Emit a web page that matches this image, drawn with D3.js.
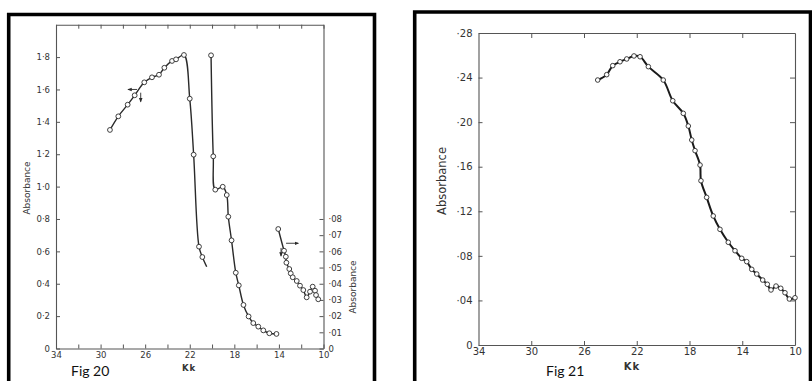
<!DOCTYPE html>
<html><head><meta charset="utf-8">
<script src="https://cdn.jsdelivr.net/npm/d3@7"></script>
<style>body{margin:0;background:#fff}svg{display:block}</style>
</head><body>
<svg id="c" width="812" height="381"></svg>
<script>
// ---------- Fig 20 data ----------
const fig20S1X = [29.16, 28.41, 27.57, 26.94, 26.08, 25.39, 24.76, 24.28, 23.59, 23.23, 22.52, 22.0, 21.65, 21.17, 20.87, 20.48];
const fig20S1Y = [1.350, 1.434, 1.506, 1.564, 1.644, 1.675, 1.691, 1.734, 1.776, 1.786, 1.813, 1.543, 1.197, 0.629, 0.565, 0.505];
const fig20S1Marked = [1,1,1,1,1,1,1,1,1,1,1,1,1,1,1,0];
const fig20S2X = [20.09, 19.89, 19.71, 19.04, 18.68, 18.54, 18.25, 17.87, 17.60, 17.18, 16.72, 16.30, 15.85, 15.40, 14.86, 14.22];
const fig20S2Y = [1.811, 1.187, 0.981, 0.999, 0.948, 0.814, 0.668, 0.468, 0.390, 0.269, 0.198, 0.157, 0.135, 0.112, 0.094, 0.090];
// series 3 is read on the right-hand axis
const fig20S3X = [14.06, 13.54, 13.38, 13.33, 13.07, 12.94, 12.76, 12.40, 12.11, 11.81, 11.51, 11.21, 10.97, 10.76, 10.67, 10.47];
const fig20S3Y = [0.0738, 0.0604, 0.0567, 0.0530, 0.0491, 0.0464, 0.0440, 0.0417, 0.0388, 0.0361, 0.0316, 0.0351, 0.0382, 0.0357, 0.0330, 0.0304];
const fig20XTicks = [34, 32, 30, 28, 26, 24, 22, 20, 18, 16, 14, 12, 10];
const fig20LeftTicks = [0, 0.2, 0.4, 0.6, 0.8, 1.0, 1.2, 1.4, 1.6, 1.8];
const fig20RightTicks = [0, 0.01, 0.02, 0.03, 0.04, 0.05, 0.06, 0.07, 0.08];
// arrow annotations [x1, y1, x2, y2] in data units (arrow head at x2,y2)
const fig20ArrowsLeft = [[26.73, 1.60, 27.54, 1.60], [26.40, 1.58, 26.40, 1.524]];
const fig20ArrowsRight = [[13.36, 0.065, 12.26, 0.065], [13.81, 0.0621, 13.81, 0.0571]];

// ---------- Fig 21 data ----------
const fig21X = [24.96, 24.28, 23.82, 23.27, 22.76, 22.21, 21.75, 21.12, 19.99, 19.27, 18.47, 18.09, 17.83, 17.58, 17.20, 17.13, 16.70, 16.20, 15.69, 15.06, 14.55, 14.04, 13.66, 13.28, 12.90, 12.45, 12.10, 11.82, 11.44, 11.08, 10.76, 10.43, 10.00];
const fig21Y = [0.2378, 0.2426, 0.2507, 0.2542, 0.2567, 0.2594, 0.2587, 0.2498, 0.2378, 0.2192, 0.2079, 0.1965, 0.1840, 0.1744, 0.1615, 0.1474, 0.1325, 0.1158, 0.1038, 0.0922, 0.0846, 0.0778, 0.0748, 0.0679, 0.0637, 0.0583, 0.0545, 0.0494, 0.0529, 0.0509, 0.0469, 0.0413, 0.0424];
const fig21XTicks = [34, 30, 26, 22, 18, 14, 10];
const fig21YTicks = [0, 0.04, 0.08, 0.12, 0.16, 0.20, 0.24, 0.28];

const svg = d3.select("#c");
const ink = "#2a2a2a", axisCol = "#555";
const tickFont = "DejaVu Sans";

svg.append("defs").append("marker")
  .attr("id", "ah").attr("viewBox", "0 0 6 6").attr("refX", 5).attr("refY", 3)
  .attr("markerWidth", 5).attr("markerHeight", 5).attr("orient", "auto")
  .append("path").attr("d", "M0,0.6 L6,3 L0,5.4 Z").attr("fill", ink);

function styleAxis(g, size) {
  g.selectAll("path.domain").attr("stroke", axisCol).attr("stroke-width", 1.1);
  g.selectAll(".tick line").attr("stroke", axisCol).attr("stroke-width", 1);
  g.selectAll(".tick text").attr("font-family", tickFont).attr("font-size", size).attr("fill", "#333");
}

// ================= Fig 20 =================
{
  const x = d3.scaleLinear().domain([34, 10]).range([56, 323.5]);
  const yL = d3.scaleLinear().domain([0, 2.0]).range([348.5, 24.7]);
  const yR = d3.scaleLinear().domain([0, 0.2]).range([348.5, 24.7]);
  const g = svg.append("g");
  const dot = v => v === 0 ? "0" : v.toFixed(1).replace(".", "·");
  const dot2 = v => v === 0 ? "0" : v.toFixed(2).replace("0.", "·");

  g.append("g").attr("transform", "translate(56,0)")
    .call(d3.axisLeft(yL).tickValues(fig20LeftTicks).tickFormat(dot).tickSize(-4).tickSizeOuter(0).tickPadding(6))
    .call(a => styleAxis(a, 8.5));
  g.append("g").attr("transform", "translate(323.5,0)")
    .call(d3.axisRight(yR).tickValues(fig20RightTicks).tickFormat(dot2).tickSize(-4).tickSizeOuter(0).tickPadding(5))
    .call(a => styleAxis(a, 8.5));
  g.append("g").attr("transform", "translate(0,348.5)")
    .call(d3.axisBottom(x).tickValues(fig20XTicks).tickFormat(v => (34 - v) % 4 === 0 ? v : "").tickSize(-4).tickSizeOuter(0).tickPadding(3))
    .call(a => styleAxis(a, 8.5));
  g.append("g").attr("transform", "translate(0,24.7)")
    .call(d3.axisTop(x).tickValues(fig20XTicks).tickFormat("").tickSize(-4).tickSizeOuter(0))
    .call(a => styleAxis(a, 8.5));

  const curve = d3.curveCatmullRom.alpha(0.5);
  const series = [
    {xs: fig20S1X, ys: fig20S1Y, y: yL, m: fig20S1Marked},
    {xs: fig20S2X, ys: fig20S2Y, y: yL, m: null},
    {xs: fig20S3X, ys: fig20S3Y, y: yR, m: null}
  ];
  series.forEach(s => {
    const pts = s.xs.map((v, i) => [v, s.ys[i], s.m ? s.m[i] : 1]);
    g.append("path").datum(pts)
      .attr("d", d3.line().x(d => x(d[0])).y(d => s.y(d[1])).curve(curve))
      .attr("fill", "none").attr("stroke", ink).attr("stroke-width", 1.4);
    g.selectAll(null).data(pts.filter(d => d[2])).join("circle")
      .attr("cx", d => x(d[0])).attr("cy", d => s.y(d[1])).attr("r", 2.4)
      .attr("fill", "#fff").attr("stroke", ink).attr("stroke-width", 0.9);
  });
  fig20ArrowsLeft.forEach(a => g.append("line")
    .attr("x1", x(a[0])).attr("y1", yL(a[1])).attr("x2", x(a[2])).attr("y2", yL(a[3]))
    .attr("stroke", ink).attr("stroke-width", 0.9).attr("marker-end", "url(#ah)"));
  fig20ArrowsRight.forEach(a => g.append("line")
    .attr("x1", x(a[0])).attr("y1", yR(a[1])).attr("x2", x(a[2])).attr("y2", yR(a[3]))
    .attr("stroke", ink).attr("stroke-width", 0.9).attr("marker-end", "url(#ah)"));

  g.append("text").attr("transform", "translate(30,188) rotate(-90)").attr("text-anchor", "middle")
    .attr("font-family", tickFont).attr("font-size", 9).attr("fill", "#333").text("Absorbance");
  g.append("text").attr("transform", "translate(356,287) rotate(-90)").attr("text-anchor", "middle")
    .attr("font-family", tickFont).attr("font-size", 9).attr("fill", "#333").text("Absorbance");
  g.append("text").attr("x", 189).attr("y", 371).attr("text-anchor", "middle")
    .attr("font-family", tickFont).attr("font-size", 8.5).attr("font-weight", "bold").attr("letter-spacing", 1).attr("fill", "#333").text("Kk");
  g.append("text").attr("x", 71).attr("y", 376)
    .attr("font-family", "Lato").attr("font-size", 14).attr("fill", "#111").text("Fig 20");
  // scan frame
  g.append("path").attr("d", "M8.7,385 V14.5 H374.5 V385").attr("fill", "none").attr("stroke", "#000").attr("stroke-width", 3.6);
}

// ================= Fig 21 =================
{
  const x = d3.scaleLinear().domain([34, 10]).range([478.5, 795]);
  const y = d3.scaleLinear().domain([0, 0.28]).range([345, 33]);
  const g = svg.append("g");
  const fmt = v => v === 0 ? "0" : v.toFixed(2).replace("0.", "·");
  const inner = [30, 26, 22, 18, 14];

  g.append("g").attr("transform", "translate(478.5,0)")
    .call(d3.axisLeft(y).tickValues(fig21YTicks).tickFormat(fmt).tickSize(-4).tickSizeOuter(0).tickPadding(6))
    .call(a => styleAxis(a, 10));
  g.append("g").attr("transform", "translate(795,0)")
    .call(d3.axisRight(y).tickValues(fig21YTicks.slice(1, -1)).tickFormat("").tickSize(-5).tickSizeOuter(0))
    .call(a => styleAxis(a, 10));
  g.append("g").attr("transform", "translate(0,345)")
    .call(d3.axisBottom(x).tickValues(fig21XTicks).tickSize(-4).tickSizeOuter(0).tickPadding(3))
    .call(a => styleAxis(a, 10))
    .call(a => a.selectAll(".tick line").filter(d => inner.indexOf(d) < 0).remove());
  g.append("g").attr("transform", "translate(0,33)")
    .call(d3.axisTop(x).tickValues(inner).tickFormat("").tickSize(-5).tickSizeOuter(0))
    .call(a => styleAxis(a, 10));

  const pts = fig21X.map((v, i) => [v, fig21Y[i]]);
  g.append("path").datum(pts)
    .attr("d", d3.line().x(d => x(d[0])).y(d => y(d[1])).curve(d3.curveCatmullRom.alpha(0.5)))
    .attr("fill", "none").attr("stroke", "#1a1a1a").attr("stroke-width", 2);
  g.selectAll(null).data(pts).join("circle")
    .attr("cx", d => x(d[0])).attr("cy", d => y(d[1])).attr("r", 2.3)
    .attr("fill", "#fff").attr("stroke", ink).attr("stroke-width", 0.9);

  g.append("text").attr("transform", "translate(446,181) rotate(-90)").attr("text-anchor", "middle")
    .attr("font-family", tickFont).attr("font-size", 11.5).attr("fill", "#333").text("Absorbance");
  g.append("text").attr("x", 632).attr("y", 370).attr("text-anchor", "middle")
    .attr("font-family", tickFont).attr("font-size", 10).attr("font-weight", "bold").attr("letter-spacing", 1).attr("fill", "#333").text("Kk");
  g.append("text").attr("x", 546).attr("y", 376)
    .attr("font-family", "Lato").attr("font-size", 14).attr("fill", "#111").text("Fig 21");
  g.append("path").attr("d", "M414.7,385 V12 H810.5 V385").attr("fill", "none").attr("stroke", "#000").attr("stroke-width", 3.6);
}
</script>
</body></html>
